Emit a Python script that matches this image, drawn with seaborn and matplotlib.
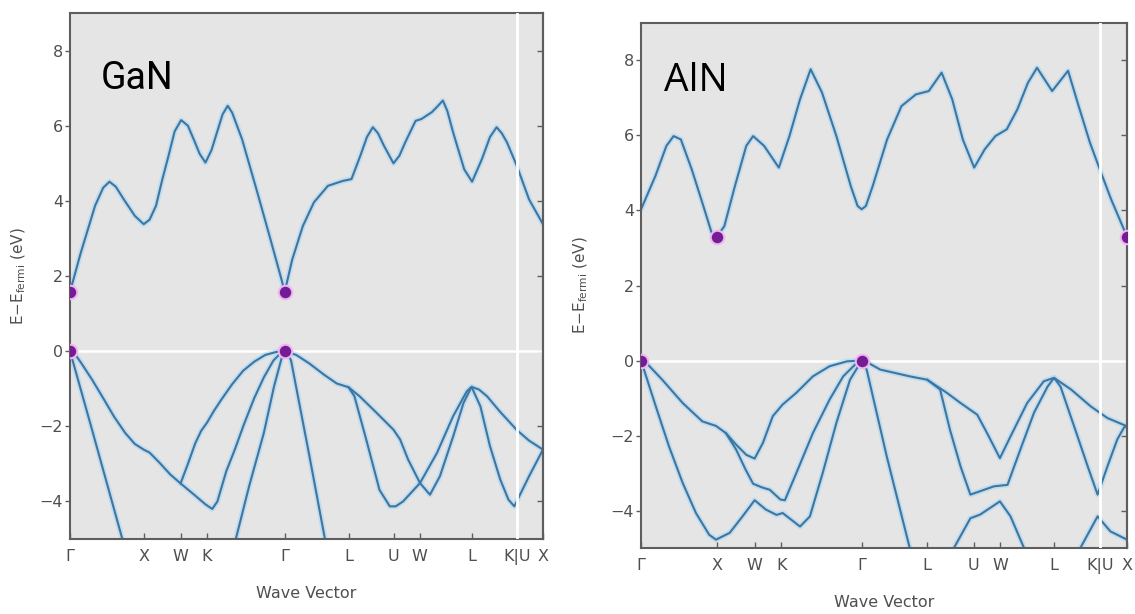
import matplotlib
matplotlib.use("Agg")
import matplotlib.pyplot as plt
import pandas as pd
import seaborn as sns

# FCC high-symmetry path (units of 2*pi/a)
KPATH_LABELS = ["Γ", "X", "W", "K", "Γ", "L", "U", "W", "L", "K|U", "X"]
KPATH_POS = [0.0, 1.0, 1.5, 1.8536, 2.9142, 3.7802, 4.3926, 4.7462, 5.4533, 6.0657, 6.4193]
KU_BREAK = 6.0657
E_TICKS = [-4, -2, 0, 2, 4, 6, 8]
E_RANGE = (-5, 9)

# ---------------- GaN bands: (k, E - E_fermi) ----------------
GAN_CB = [(0.0, 1.58), (0.146, 2.62), (0.34, 3.87), (0.45, 4.35), (0.535, 4.51), (0.62, 4.38),
          (0.73, 4.04), (0.88, 3.6), (1.0, 3.38), (1.08, 3.5), (1.167, 3.87), (1.25, 4.55),
          (1.337, 5.2), (1.42, 5.85), (1.508, 6.15), (1.6, 6.0), (1.678, 5.64), (1.76, 5.25),
          (1.838, 5.02), (1.92, 5.35), (1.994, 5.82), (2.07, 6.3), (2.14, 6.53), (2.2, 6.35),
          (2.335, 5.64), (2.53, 4.31), (2.72, 2.98), (2.87, 1.91), (2.914, 1.58), (3.016, 2.44),
          (3.16, 3.33), (3.31, 3.96), (3.5, 4.4), (3.7, 4.53), (3.82, 4.58), (3.94, 5.2),
          (4.03, 5.7), (4.11, 5.96), (4.18, 5.8), (4.26, 5.47), (4.39, 5.0), (4.47, 5.2),
          (4.55, 5.56), (4.69, 6.13), (4.77, 6.18), (4.91, 6.36), (4.98, 6.5), (5.06, 6.67),
          (5.12, 6.4), (5.2, 5.82), (5.35, 4.84), (5.457, 4.51), (5.59, 5.11), (5.7, 5.7),
          (5.79, 5.96), (5.86, 5.8), (5.93, 5.56), (6.065, 4.93), (6.23, 4.04), (6.419, 3.38)]

GAN_VB_UPPER = [(0.0, 0.0), (0.06, -0.06), (0.15, -0.31), (0.30, -0.76), (0.45, -1.25),
                (0.60, -1.75), (0.75, -2.18), (0.88, -2.47), (1.0, -2.62), (1.08, -2.7),
                (1.22, -2.98), (1.36, -3.28), (1.5, -3.52), (1.6, -3.0), (1.7, -2.45),
                (1.78, -2.12), (1.86, -1.9), (1.95, -1.6), (2.05, -1.3), (2.2, -0.88),
                (2.35, -0.52), (2.5, -0.28), (2.65, -0.1), (2.8, -0.02), (2.914, 0.0),
                (3.07, -0.1), (3.25, -0.33), (3.45, -0.63), (3.62, -0.86), (3.78, -0.96),
                (3.93, -1.2), (4.16, -1.64), (4.39, -2.09), (4.48, -2.35), (4.59, -2.89),
                (4.75, -3.51), (4.885, -3.82), (5.02, -3.33), (5.2, -2.27), (5.34, -1.38),
                (5.45, -0.95), (5.55, -1.02), (5.66, -1.2), (5.84, -1.62), (6.065, -2.1),
                (6.23, -2.38), (6.419, -2.62)]

GAN_VB_LOWER = [(1.5, -3.52), (1.66, -3.78), (1.84, -4.08), (1.93, -4.2), (2.0, -4.0),
                (2.12, -3.2), (2.24, -2.6), (2.36, -1.95), (2.5, -1.25), (2.63, -0.7),
                (2.76, -0.25), (2.86, -0.05), (2.914, 0.0)]
GAN_VB_LOWER_2 = [(3.78, -0.96), (3.86, -1.2), (4.02, -2.35), (4.2, -3.69), (4.34, -4.13),
                  (4.42, -4.13), (4.52, -4.0), (4.75, -3.51), (4.98, -2.71), (5.2, -1.73),
                  (5.385, -1.07), (5.45, -0.95), (5.57, -1.47), (5.70, -2.53), (5.84, -3.42),
                  (5.95, -3.95), (6.03, -4.13), (6.23, -3.33), (6.419, -2.62)]
GAN_VB_DEEP_1 = [(0.0, 0.0), (0.3, -2.1), (0.71, -5.0)]
GAN_VB_DEEP_2 = [(2.25, -5.0), (2.43, -3.6), (2.63, -2.18), (2.77, -0.93), (2.87, -0.2),
                 (2.914, 0.0), (2.96, -0.08), (3.0, -0.25), (3.25, -2.8), (3.46, -5.0)]

GAN_EDGES = [(0.0, 1.58), (2.914, 1.58), (0.0, 0.0), (2.914, 0.0)]

# ---------------- AlN bands ----------------
ALN_CB = [(0.0, 4.03), (0.19, 4.92), (0.335, 5.72), (0.43, 5.98), (0.526, 5.89), (0.67, 5.09),
          (0.81, 4.2), (0.93, 3.42), (1.0, 3.3), (1.1, 3.58), (1.24, 4.65), (1.39, 5.72),
          (1.48, 5.98), (1.625, 5.72), (1.82, 5.14), (1.96, 5.98), (2.1, 6.96), (2.24, 7.76),
          (2.39, 7.14), (2.58, 5.98), (2.77, 4.65), (2.86, 4.12), (2.914, 4.03), (2.97, 4.12),
          (3.06, 4.65), (3.25, 5.89), (3.44, 6.78), (3.63, 7.09), (3.80, 7.18), (3.97, 7.67),
          (4.11, 6.96), (4.25, 5.89), (4.40, 5.14), (4.54, 5.63), (4.68, 5.98), (4.83, 6.16),
          (4.97, 6.69), (5.11, 7.4), (5.23, 7.8), (5.43, 7.18), (5.64, 7.72), (5.78, 6.78),
          (5.93, 5.8), (6.06, 5.09), (6.21, 4.29), (6.419, 3.3)]

ALN_VB_UPPER = [(0.0, 0.0), (0.06, -0.04), (0.28, -0.51), (0.55, -1.13), (0.81, -1.62),
                (0.99, -1.74), (1.12, -1.93), (1.256, -2.24), (1.39, -2.51), (1.5, -2.61),
                (1.61, -2.19), (1.74, -1.48), (1.87, -1.17), (2.05, -0.86), (2.27, -0.42),
                (2.49, -0.15), (2.72, -0.02), (2.914, 0.0), (3.0, -0.06), (3.16, -0.24),
                (3.55, -0.42), (3.78, -0.51), (4.04, -0.86), (4.22, -1.13), (4.44, -1.44),
                (4.57, -1.93), (4.74, -2.6), (4.88, -2.02), (5.10, -1.13), (5.32, -0.55),
                (5.455, -0.46), (5.68, -0.77), (5.94, -1.22), (6.16, -1.53), (6.419, -1.75)]
ALN_VB_MID_1 = [(1.12, -1.93), (1.256, -2.37), (1.38, -2.9), (1.48, -3.28), (1.60, -3.38),
                (1.70, -3.44), (1.84, -3.7), (1.90, -3.72), (2.05, -3.0), (2.27, -1.93),
                (2.49, -1.04), (2.67, -0.42), (2.85, -0.06), (2.914, 0.0)]
ALN_VB_MID_2 = [(3.78, -0.51), (3.95, -0.77), (4.08, -1.84), (4.22, -2.82), (4.35, -3.57),
                (4.66, -3.35), (4.84, -3.31), (5.01, -2.37), (5.19, -1.39), (5.37, -0.69),
                (5.455, -0.46), (5.54, -0.69), (5.72, -1.75), (5.90, -2.82), (6.03, -3.57),
                (6.16, -2.82), (6.29, -2.1), (6.38, -1.78), (6.419, -1.75)]
ALN_VB_DEEP_1 = [(0.0, 0.0), (0.195, -1.22), (0.37, -2.29), (0.55, -3.26), (0.725, -4.06),
                 (0.9, -4.64), (0.99, -4.77), (1.17, -4.59), (1.34, -4.15), (1.5, -3.72),
                 (1.65, -3.97), (1.79, -4.11), (1.87, -4.06), (2.10, -4.42), (2.23, -4.15),
                 (2.40, -2.99), (2.58, -1.66), (2.76, -0.51), (2.914, 0.0), (2.98, -0.24),
                 (3.245, -2.55), (3.55, -5.0)]
ALN_VB_DEEP_2 = [(4.13, -5.0), (4.35, -4.2), (4.48, -4.1), (4.74, -3.75), (4.88, -4.15),
                 (5.06, -5.0)]
ALN_VB_DEEP_3 = [(5.80, -5.0), (6.03, -4.15), (6.2, -4.55), (6.419, -4.77)]

ALN_EDGES = [(1.0, 3.3), (6.419, 3.3), (0.0, 0.0), (2.914, 0.0)]

GAN_BANDS = {"cb": GAN_CB, "vb_upper": GAN_VB_UPPER, "vb_lower": GAN_VB_LOWER,
             "vb_lower_2": GAN_VB_LOWER_2, "vb_deep_1": GAN_VB_DEEP_1, "vb_deep_2": GAN_VB_DEEP_2}
ALN_BANDS = {"cb": ALN_CB, "vb_upper": ALN_VB_UPPER, "vb_mid_1": ALN_VB_MID_1,
             "vb_mid_2": ALN_VB_MID_2, "vb_deep_1": ALN_VB_DEEP_1, "vb_deep_2": ALN_VB_DEEP_2,
             "vb_deep_3": ALN_VB_DEEP_3}


def to_frame(bands):
    rows = [(name, k, e) for name, pts in bands.items() for k, e in pts]
    return pd.DataFrame(rows, columns=["band", "k", "E"])


LINE = "#3d76a0"
HALO = "#a6d6f6"
DOT = "#741b96"
DOT_EDGE = "#f0b4ee"
INK = "#4f4f4f"
SPINE = "#5e5e5e"

sns.set_theme(style="white")
plt.rcParams["font.family"] = ["DejaVu Sans"]

fig = plt.figure(figsize=(11.35, 6.14), dpi=100)
ax_gan = fig.add_axes([0.0617, 0.1221, 0.4167, 0.8567])
ax_aln = fig.add_axes([0.5648, 0.1070, 0.4282, 0.8560])

panels = [
    (ax_gan, GAN_BANDS, GAN_EDGES, "GaN", "Roboto", 27, (0.064, 0.875), -0.108, -0.103),
    (ax_aln, ALN_BANDS, ALN_EDGES, "AlN", "Open Sans", 28, (0.048, 0.889), -0.124, -0.104),
]

for ax, bands, edges, name, name_font, name_size, name_xy, ylab_x, xlab_y in panels:
    ax.set_facecolor("#e5e5e5")
    df = to_frame(bands)
    ax.axhline(0, color="white", lw=1.8, zorder=1.5)
    sns.lineplot(data=df, x="k", y="E", units="band", estimator=None, sort=False,
                 color=HALO, lw=4.0, alpha=0.55, ax=ax, legend=False)
    sns.lineplot(data=df, x="k", y="E", units="band", estimator=None, sort=False,
                 color=LINE, lw=1.5, ax=ax, legend=False)
    ax.axvline(KU_BREAK, color="white", lw=2.0, zorder=3)

    edge_df = pd.DataFrame(edges, columns=["k", "E"])
    sns.scatterplot(data=edge_df, x="k", y="E", s=95, color=DOT, edgecolor=DOT_EDGE,
                    linewidth=1.5, ax=ax, zorder=6, legend=False)

    ax.set_xlim(KPATH_POS[0], KPATH_POS[-1])
    ax.set_ylim(*E_RANGE)
    ax.set_xticks(KPATH_POS, KPATH_LABELS)
    ax.set_yticks(E_TICKS)
    ax.grid(False)
    for sp in ax.spines.values():
        sp.set_visible(True)
        sp.set_color(SPINE)
        sp.set_linewidth(1.5)

    ax.tick_params(axis="x", direction="in", length=4, width=1, color=SPINE,
                   pad=7, labelsize=11.5, labelcolor=INK, top=False, bottom=True)
    ax.tick_params(axis="y", direction="out", length=3.5, width=1, color=SPINE,
                   pad=1.5, labelsize=11.5, labelcolor=INK, left=True, right=False)
    right = ax.secondary_yaxis("right")
    right.set_yticks(E_TICKS)
    right.tick_params(direction="in", length=4, width=1, color=SPINE, labelright=False)
    right.spines["right"].set_color(SPINE)
    right.spines["right"].set_linewidth(1.5)

    ax.set_xlabel("Wave Vector", fontsize=11.5, color=INK, va="center")
    ax.xaxis.set_label_coords(0.5, xlab_y)
    ax.set_ylabel(r"$\mathrm{E{-}E_{fermi}}$ (eV)", fontsize=11, color=INK, va="center")
    ax.yaxis.set_label_coords(ylab_x, 0.5)

    ax.text(name_xy[0], name_xy[1], name, transform=ax.transAxes, ha="left", va="center",
            fontsize=name_size, color="black", family=name_font)

fig.savefig("out.png", dpi=100, facecolor="white")
